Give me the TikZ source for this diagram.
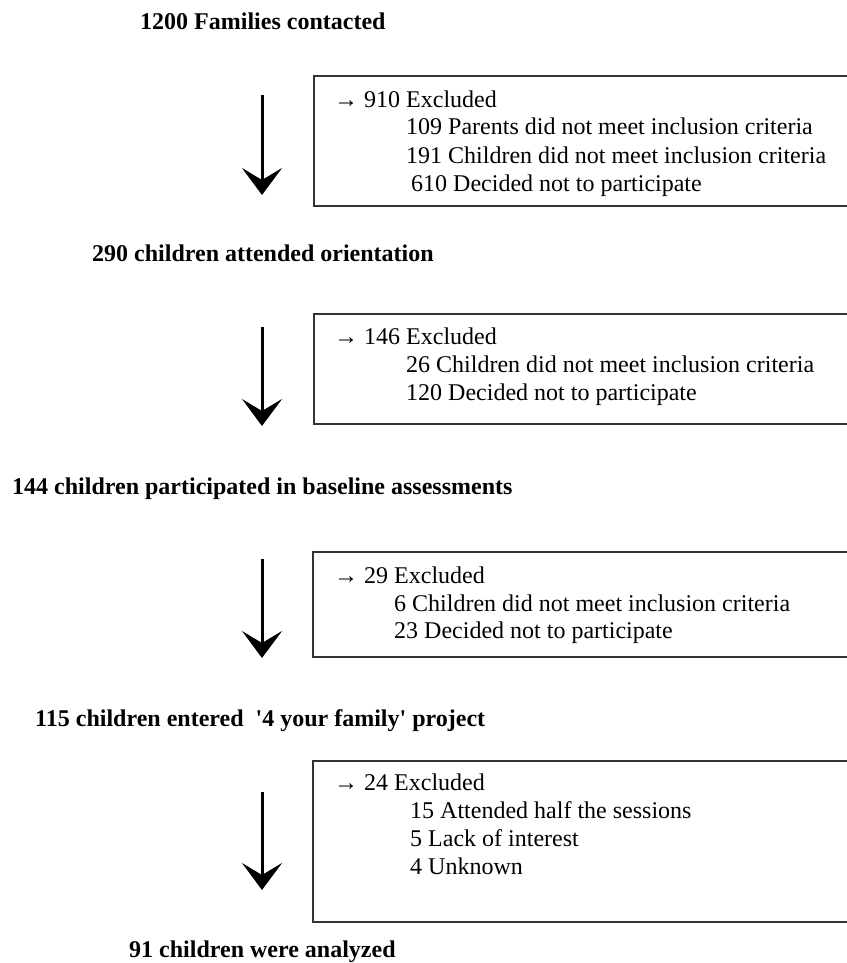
\documentclass[tikz,border=0pt]{standalone}
\usepackage{fontspec}
\setmainfont{Liberation Serif}
\usetikzlibrary{arrows.meta}

\begin{document}
\begin{tikzpicture}[x=1pt,y=-1pt,
  stage/.style={anchor=base west,inner sep=0pt,font=\fontsize{24}{28}\selectfont\bfseries},
  reason/.style={anchor=base west,inner sep=0pt,font=\fontsize{24}{28}\selectfont},
  exbox/.style={draw=black!80,line width=1.3pt},
  flow/.style={-{Stealth[length=27pt,width=40pt,inset=12pt]},line width=3pt}]
  \useasboundingbox (0,0) rectangle (846,963);
  % stages
  \node[stage] (s1) at (140,30) {1200 Families contacted};
  \node[stage] (s2) at (92,261) {290 children attended orientation};
  \node[stage] (s3) at (12,494) {144 children participated in baseline assessments};
  \node[stage] (s4) at (35,726) {115 children entered\ \ \textquotesingle 4 your family\textquotesingle\ project};
  \node[stage] (s5) at (129,957) {91 children were analyzed};
  % arrows
  \coordinate (a1) at (262,95);  \coordinate (b1) at (262,195);
  \coordinate (a2) at (262,327); \coordinate (b2) at (262,426);
  \coordinate (a3) at (262,559); \coordinate (b3) at (262,658);
  \coordinate (a4) at (262,792); \coordinate (b4) at (262,890);
  \draw[flow] (a1) -- (b1);
  \draw[flow] (a2) -- (b2);
  \draw[flow] (a3) -- (b3);
  \draw[flow] (a4) -- (b4);
  % exclusion boxes
  \draw[exbox] (314,76) rectangle (870,206);
  \node[reason] (e1) at (334,107) {→ 910 Excluded};
  \node[reason] (e11) at (406,135) {109 Parents did not meet inclusion criteria};
  \node[reason] (e12) at (406,163) {191 Children did not meet inclusion criteria};
  \node[reason] (e13) at (411,191) {610 Decided not to participate};

  \draw[exbox] (314,314) rectangle (870,424);
  \node[reason] (e2) at (334,344) {→ 146 Excluded};
  \node[reason] (e21) at (406,372) {26 Children did not meet inclusion criteria};
  \node[reason] (e22) at (406,400) {120 Decided not to participate};

  \draw[exbox] (313,552) rectangle (870,657);
  \node[reason] (e3) at (334,583) {→ 29 Excluded};
  \node[reason] (e31) at (394,611) {6 Children did not meet inclusion criteria};
  \node[reason] (e32) at (394,638) {23 Decided not to participate};

  \draw[exbox] (313,761) rectangle (870,922);
  \node[reason] (e4) at (334,790) {→ 24 Excluded};
  \node[reason] (e41) at (410,818) {15 Attended half the sessions};
  \node[reason] (e42) at (410,846) {5 Lack of interest};
  \node[reason] (e43) at (410,874) {4 Unknown};
\end{tikzpicture}
\end{document}
